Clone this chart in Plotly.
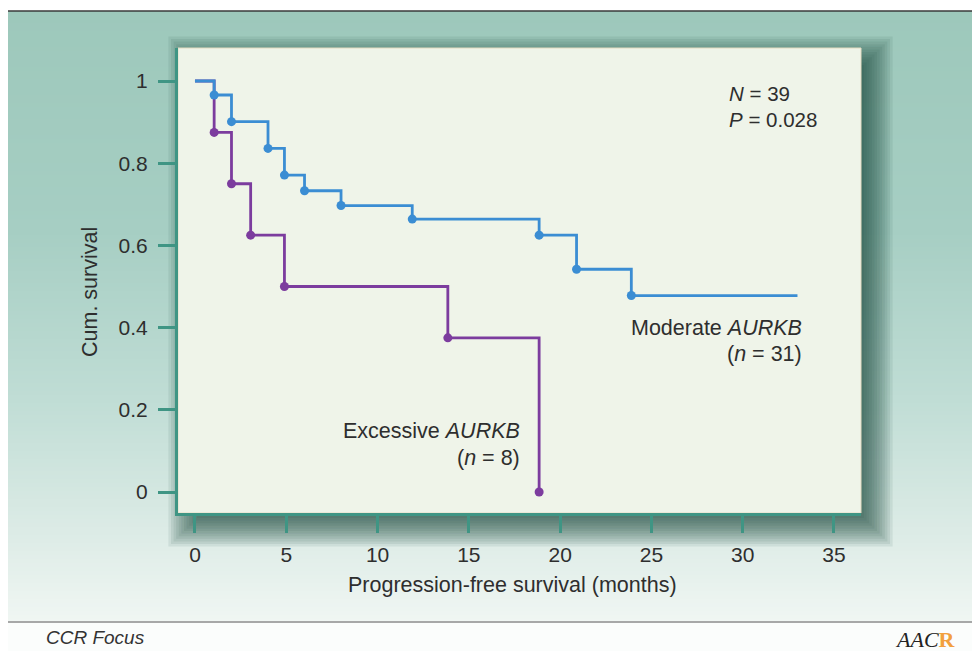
import plotly.graph_objects as go

# ---------------- data ----------------
moderate_months = [0, 1.05, 2.0, 4.0, 4.9, 6.0, 8.0, 11.9, 18.85, 20.9, 23.9, 33.0]
moderate_surv = [1.0, 0.966, 0.901, 0.836, 0.771, 0.733, 0.697, 0.664, 0.625, 0.542, 0.478, 0.478]

excessive_months = [0, 1.05, 2.0, 3.05, 4.9, 13.85, 18.85]
excessive_surv = [1.0, 0.875, 0.75, 0.625, 0.5, 0.375, 0.0]

x_ticks = [0, 5, 10, 15, 20, 25, 30, 35]
y_ticks = [0, 0.2, 0.4, 0.6, 0.8, 1]
y_tick_labels = ["0", "0.2", "0.4", "0.6", "0.8", "1"]

# ---------------- layout geometry (page pixels) ----------------
W, H = 980, 651
OFF = 8  # page body margin offset
L, R, T, B = 178, 861, 48, 513
PW, PH = R - L, B - T


def px(x):
    return (x - L) / PW


def py(y):
    return (B - y) / PH


FONT = "Liberation Sans, Arial, Helvetica, sans-serif"
TEAL = "#3f9584"
BLUE = "#3b8dd3"
PURPLE = "#7c3c9e"
TXT = "#2e2e2e"

shapes = []


def lerp(c1, c2, t):
    return tuple(int(round(a + (b - a) * t)) for a, b in zip(c1, c2))


# background gradient (outer panel)
stops = [(11, (157, 200, 187)), (230, (166, 206, 195)), (400, (192, 221, 213)),
         (540, (222, 236, 231)), (621, (240, 246, 243))]
step = 4
y = 11
while y < 621:
    yc = y + step / 2
    for i in range(len(stops) - 1):
        if stops[i][0] <= yc <= stops[i + 1][0]:
            t = (yc - stops[i][0]) / (stops[i + 1][0] - stops[i][0])
            c = lerp(stops[i][1], stops[i + 1][1], t)
            break
    shapes.append(dict(type="rect", xref="paper", yref="paper", layer="below",
                       x0=px(6), x1=px(995), y0=py(y), y1=py(min(y + step + 0.5, 621)),
                       fillcolor="rgb(%d,%d,%d)" % c, line=dict(width=0)))
    y += step

# bottom white strip
shapes.append(dict(type="rect", xref="paper", yref="paper", layer="below",
                   x0=px(6), x1=px(995), y0=py(665), y1=py(621),
                   fillcolor="#fbfdfc", line=dict(width=0)))

# drop shadow behind plot area
ox, oy = 9, 9
for k in range(12):
    s = k * 2.6
    shapes.append(dict(type="rect", xref="paper", yref="paper", layer="below",
                       x0=px(L + ox - s + 10), x1=px(R + ox + s - 6),
                       y0=py(B + oy + s - 4), y1=py(T + oy - s + 8),
                       fillcolor="rgba(22,70,58,0.085)", line=dict(width=0)))

# plot area fill
shapes.append(dict(type="rect", xref="paper", yref="paper", layer="below",
                   x0=0, x1=1, y0=0, y1=1, fillcolor="#eff4e9",
                   line=dict(color="#e4dcc2", width=1)))

# frame lines
shapes.append(dict(type="line", xref="paper", yref="paper", x0=px(6), x1=px(995),
                   y0=py(11), y1=py(11), line=dict(color="#3a3a3a", width=1.5)))
shapes.append(dict(type="line", xref="paper", yref="paper", x0=px(6), x1=px(6),
                   y0=py(11), y1=py(665), line=dict(color="#3a3a3a", width=1.5)))
shapes.append(dict(type="line", xref="paper", yref="paper", x0=px(6), x1=px(995),
                   y0=py(622), y1=py(622), line=dict(color="#555555", width=1.2)))

fig = go.Figure()

# Excessive (purple)
fig.add_trace(go.Scatter(x=excessive_months, y=excessive_surv, mode="lines",
                         line=dict(color=PURPLE, width=2.8, shape="hv"),
                         hoverinfo="skip", showlegend=False))
fig.add_trace(go.Scatter(x=excessive_months[1:], y=excessive_surv[1:], mode="markers",
                         marker=dict(color=PURPLE, size=9),
                         showlegend=False))
# Moderate (blue)
fig.add_trace(go.Scatter(x=moderate_months, y=moderate_surv, mode="lines",
                         line=dict(color=BLUE, width=2.8, shape="hv"),
                         hoverinfo="skip", showlegend=False))
fig.add_trace(go.Scatter(x=moderate_months[1:-1], y=moderate_surv[1:-1], mode="markers",
                         marker=dict(color=BLUE, size=9),
                         showlegend=False))

ann = []


def text(x, y, s, size=21.5, xanchor="left", **kw):
    ann.append(dict(x=px(x), y=py(y), xref="paper", yref="paper", text=s,
                    showarrow=False, xanchor=xanchor, yanchor="middle",
                    font=dict(family=FONT, size=size, color=TXT), **kw))


text(727, 93, "<i>N</i> = 39", size=20.5)
text(727, 120, "<i>P</i> = 0.028", size=20.5)
text(804, 328, "Moderate <i>AURKB</i>", xanchor="right")
text(804, 354, "(<i>n</i> = 31)", xanchor="right")
text(522, 431, "Excessive <i>AURKB</i>", xanchor="right")
text(522, 458, "(<i>n</i> = 8)", xanchor="right")
text(90, 292, "Cum. survival", xanchor="center", textangle=-90)
text(512, 585, "Progression-free survival (months)", xanchor="center")
ann.append(dict(x=px(44), y=py(637), xref="paper", yref="paper",
                text="<i>CCR Focus</i>", showarrow=False, xanchor="left", yanchor="middle",
                font=dict(family=FONT, size=19, color="#333333")))
ann.append(dict(x=px(893), y=py(639), xref="paper", yref="paper",
                text="<i>AAC</i><span style='color:#f2a03d'><b>R</b></span>",
                showarrow=False, xanchor="left", yanchor="middle",
                font=dict(family="Liberation Serif, Times New Roman, serif", size=22,
                          color="#222222")))

fig.update_layout(
    width=W, height=H,
    margin=dict(l=L - OFF, r=W - (R - OFF), t=T - OFF, b=H - (B - OFF), pad=0),
    paper_bgcolor="white",
    plot_bgcolor="rgba(0,0,0,0)",
    shapes=shapes,
    annotations=ann,
    showlegend=False,
    xaxis=dict(range=[-0.93, 36.48], tickvals=x_ticks, ticks="outside", ticklen=17,
               tickwidth=2.5, tickcolor=TEAL, showline=True, linecolor=TEAL, linewidth=3,
               showgrid=False, zeroline=False, ticklabelstandoff=4,
               tickfont=dict(family=FONT, size=21, color=TXT)),
    yaxis=dict(range=[-0.0511, 1.0803], tickvals=y_ticks, ticktext=y_tick_labels,
               ticks="outside", ticklen=17, tickwidth=2.5, tickcolor=TEAL, showline=True,
               linecolor=TEAL, linewidth=3, showgrid=False, zeroline=False,
               ticklabelstandoff=6, tickfont=dict(family=FONT, size=21, color=TXT)),
)

fig.write_html("out.html")
